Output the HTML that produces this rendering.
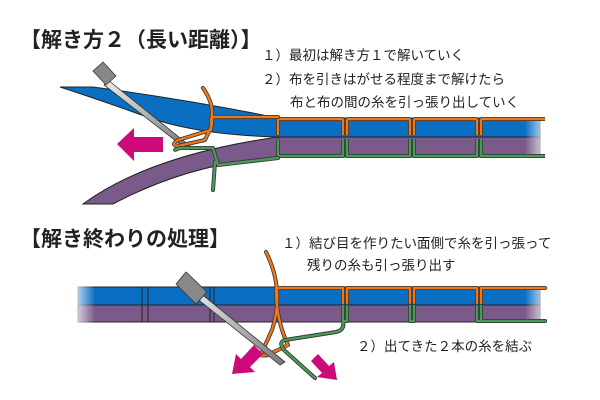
<!DOCTYPE html>
<html><head><meta charset="utf-8"><style>
html,body{margin:0;padding:0;background:#fff;}
svg{display:block;}
text{font-family:"Liberation Sans","Noto Sans CJK JP",sans-serif;fill:#222;}
</style></head><body>
<svg width="600" height="400" viewBox="0 0 600 400" xmlns="http://www.w3.org/2000/svg">
<defs>
<linearGradient id="fadeR" x1="0" x2="1"><stop offset="0" stop-color="#fff" stop-opacity="0"/><stop offset="1" stop-color="#fff" stop-opacity="1"/></linearGradient>
<linearGradient id="fadeL" x1="0" x2="1"><stop offset="0" stop-color="#fff" stop-opacity="1"/><stop offset="1" stop-color="#fff" stop-opacity="0"/></linearGradient>
<linearGradient id="shaft" x1="0" y1="0" x2="1" y2="1"><stop offset="0" stop-color="#eee"/><stop offset="1" stop-color="#777"/></linearGradient>
</defs>
<text x="20" y="47" font-size="21" font-weight="bold">【解き方２（長い距離）】</text>
<text x="262" y="60" font-size="13.5">１）最初は解き方１で解いていく</text>
<text x="262" y="84" font-size="13.5">２）布を引きはがせる程度まで解けたら</text>
<text x="290" y="107" font-size="13.5">布と布の間の糸を引っ張り出していく</text>

<!-- top fabric -->
<path d="M60,87 L93,87 Q190,100 278,118 L278,137 Q200,135 150,118 Q100,100 60,87 Z" fill="#0a6fc2" stroke="#222" stroke-width="1"/>
<path d="M83,204 Q150,155 278,137 L278,157 Q190,163 113,204 Z" fill="#7a5a8a" stroke="#222" stroke-width="1"/>
<g stroke="#222" stroke-width="1">
<rect x="278" y="118" width="262" height="19" fill="#0a6fc2"/>
<rect x="278" y="137" width="262" height="20" fill="#7a5a8a"/>
</g>
<rect x="525" y="115" width="25" height="45" fill="url(#fadeR)"/>
<g fill="none" stroke-linejoin="round">
<path d="M278,119 H343 M347,119 H410 M414,119 H477 M481,119 H545 M278,119 V135 M343,119 V135 M347,119 V135 M410,119 V135 M414,119 V135 M477,119 V135 M481,119 V135" stroke="#333" stroke-width="4"/>
<path d="M278,119 H343 M347,119 H410 M414,119 H477 M481,119 H545 M278,119 V135 M343,119 V135 M347,119 V135 M410,119 V135 M414,119 V135 M477,119 V135 M481,119 V135" stroke="#f07818" stroke-width="2.4"/>
<path d="M278,139 V156 H343 V139 M347,139 V156 H410 V139 M414,139 V156 H477 V139 M481,139 V156 H545" stroke="#333" stroke-width="4"/>
<path d="M278,139 V156 H343 V139 M347,139 V156 H410 V139 M414,139 V156 H477 V139 M481,139 V156 H545" stroke="#4a9a5a" stroke-width="2.4"/>
</g>
<!-- needle top -->
<path d="M108,80 L190,146 L185,148 L104,85 Z" fill="url(#shaft)" stroke="#333" stroke-width="0.8"/>
<path d="M93,71 L103,62 L116,76 L106,85 Z" fill="#888" stroke="#333" stroke-width="0.8"/>
<!-- threads top -->
<g fill="none" stroke-linejoin="round" stroke-linecap="round">
<path d="M203,88 Q215,105 211,120 L211,130 L178,140 Q170,145 178,146 L205,140 L212,125 L212,117 L278,117" stroke="#333" stroke-width="4"/>
<path d="M203,88 Q215,105 211,120 L211,130 L178,140 Q170,145 178,146 L205,140 L212,125 L212,117 L278,117" stroke="#f07818" stroke-width="2.4"/>
<path d="M278,158 L218,165 L213,148 L180,148 Q172,151 177,149 M215,162 L213,190" stroke="#333" stroke-width="4"/>
<path d="M278,158 L218,165 L213,148 L180,148 Q172,151 177,149 M215,162 L213,190" stroke="#4a9a5a" stroke-width="2.4"/>
</g>
<path d="M117,144 L134,128 L134,137 L163,137 L163,152 L134,152 L134,161 Z" fill="#cc0a7a"/>

<!-- bottom section -->
<text x="20" y="246" font-size="21" font-weight="bold">【解き終わりの処理】</text>
<text x="282" y="248" font-size="13.5">１）結び目を作りたい面側で糸を引っ張って</text>
<text x="307" y="270" font-size="13.5">残りの糸も引っ張り出す</text>
<text x="357" y="351" font-size="13.5">２）出てきた２本の糸を結ぶ</text>
<g stroke="#222" stroke-width="1">
<rect x="78" y="287" width="462" height="18" fill="#0a6fc2"/>
<rect x="78" y="305" width="462" height="17" fill="#7a5a8a"/>
<path d="M142,287 V322 M148,287 V322 M210,287 V322 M214,287 V322"/>
</g>
<rect x="70" y="284" width="25" height="42" fill="url(#fadeL)"/>
<rect x="525" y="284" width="25" height="42" fill="url(#fadeR)"/>
<g fill="none" stroke-linejoin="round" stroke-linecap="round">
<path d="M276,288 H343 M347,288 H410 M414,288 H477 M481,288 H545 M343,288 V303 M347,288 V303 M410,288 V303 M414,288 V303 M477,288 V303 M481,288 V303 M266,252 Q285,290 272,330 L262,352 Q258,357 268,355 L288,345 Q276,320 276,288" stroke="#333" stroke-width="4"/>
<path d="M276,288 H343 M347,288 H410 M414,288 H477 M481,288 H545 M343,288 V303 M347,288 V303 M410,288 V303 M414,288 V303 M477,288 V303 M481,288 V303 M266,252 Q285,290 272,330 L262,352 Q258,357 268,355 L288,345 Q276,320 276,288" stroke="#f07818" stroke-width="2.4"/>
<path d="M343,306 V321 H347 V306 M410,306 V321 H414 V306 M477,306 V321 H481 V306 M481,321 H545 M343,321 Q345,330 336,332 L285,340 Q278,342 284,350 L315,378" stroke="#333" stroke-width="4"/>
<path d="M343,306 V321 H347 V306 M410,306 V321 H414 V306 M477,306 V321 H481 V306 M481,321 H545 M343,321 Q345,330 336,332 L285,340 Q278,342 284,350 L315,378" stroke="#4a9a5a" stroke-width="2.4"/>
</g>
<path d="M194,288 L285,362 L280,365 L190,293 Z" fill="url(#shaft)" stroke="#333" stroke-width="0.8"/>
<path d="M176,284 L186,272 L207,292 L196,304 Z" fill="#888" stroke="#333" stroke-width="0.8"/>
<path d="M232,374 L236,354 L241,359 L254,345 L263,354 L250,367 L255,372 Z" fill="#cc0a7a"/>
<path d="M337,380 L334,362 L329,366 L318,354 L311,361 L322,373 L317,377 Z" fill="#cc0a7a"/>
</svg>
</body></html>
